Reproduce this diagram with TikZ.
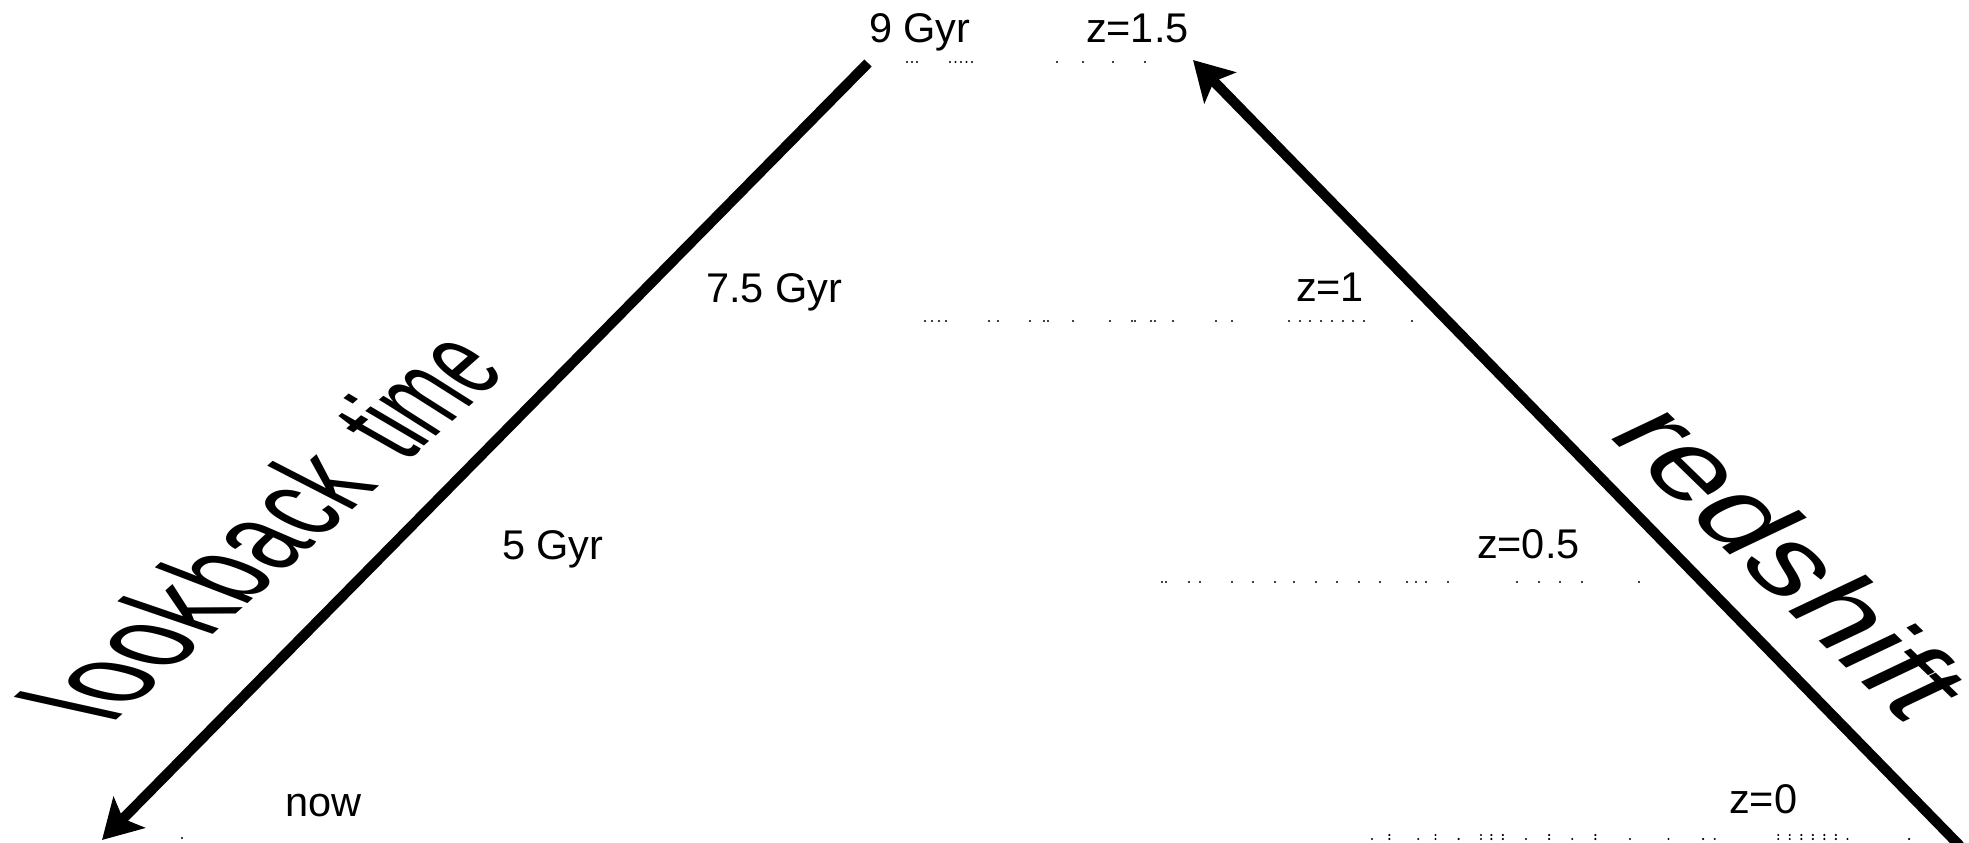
\documentclass[tikz,border=0pt]{standalone}
\usepackage{fontspec}
\setmainfont{Liberation Sans}
\usetikzlibrary{arrows.meta}
\begin{document}
\begin{tikzpicture}[x=0.01cm,y=-0.01cm,
  lbl/.style={anchor=base west, inner sep=0pt, outer sep=0pt, font=\fontsize{11.8}{14}\selectfont},
  axislabel/.style={transform shape, anchor=base west, inner sep=0pt, outer sep=0pt, font=\fontsize{20}{24}\selectfont},
  axisarrow/.style={line width=2.9pt, -{Stealth[length=11pt,width=12.5pt,inset=2.5pt]}}]
\useasboundingbox (0,0) rectangle (1969,842);
% arrows
\coordinate (ltop) at (868,63);
\coordinate (lend) at (102,840);
\coordinate (rbot) at (1960,846);
\coordinate (rtip) at (1193,60);
\draw[axisarrow] (ltop) -- (lend);
\draw[axisarrow] (rbot) -- (rtip);
% labels
\node[lbl] (g9) at (869,42) {9 Gyr};
\node[lbl] (z15) at (1086,42) {z=1.5};
\node[lbl] (g75) at (706,302) {7.5 Gyr};
\node[lbl] (z1) at (1296,301) {z=1};
\node[lbl] (g5) at (502,559) {5 Gyr};
\node[lbl] (z05) at (1477,558) {z=0.5};
\node[lbl] (now) at (285,816) {now};
\node[lbl] (z0) at (1729,813) {z=0};
% "lookback time" in perspective, letter by letter
\foreach \ua/\ub/\va/\vb/\px/\py/\ch/\nm in {
  1.0584/0.9397/-2.0082/0.4451/111.8/724.3/l/lb1,
  1.0393/0.9227/-1.9733/0.4993/128.3/709.6/o/lb2,
  1.0127/0.8991/-1.9221/0.5730/168.9/673.6/o/lb3,
  0.9861/0.8754/-1.8706/0.6404/208.4/638.4/k/lb4,
  0.9606/0.8528/-1.8207/0.6990/243.0/607.6/b/lb5,
  0.9339/0.8291/-1.7663/0.7606/280.5/574.3/a/lb6,
  0.9074/0.8056/-1.7156/0.8110/317.0/541.9/c/lb7,
  0.8829/0.7839/-1.6674/0.8570/348.8/513.6/k/lb8,
  0.8510/0.7555/-1.6042/0.9112/405.8/463.0/t/lb9,
  0.8382/0.7442/-1.5798/0.9305/420.9/449.6/i/lb10,
  0.7721/0.6854/-1.5289/0.9702/432.4/439.3/m/lb11,
  0.7786/0.6913/-1.4653/1.0147/477.6/399.1/e/lb12}{
  \begin{scope}[cm={\ua,\ub,\va,\vb,(\px,\py)}]
    \node[axislabel] (\nm) at (0,0) {\ch};
  \end{scope}
}
% "redshift"
\begin{scope}[cm={1.295,-1.259,1.516,0.720,(1605,433)}]
  \node[axislabel] (rs) at (0,0) {redshift};
\end{scope}
% galaxies (dots)
\foreach \x in {907,912,917,950,955.5,961,966.5,972,1057,1083,1113,1145}
  \fill (\x,62) circle (1.2);
\foreach \x in {925,932,939,946,989,998,1030,1044,1048,1073,1110,1132,1135,1151,1155,1173,1216,1232,1289,1300,1310,1321,1332,1343,1353,1364,1412}
  \fill (\x,321) circle (1.2);
\foreach \x in {1162,1166,1189,1200,1232,1253,1275,1294,1316,1337,1359,1380,1407,1416,1426,1448,1517,1539,1560,1582,1639}
  \fill (\x,582) circle (1.2);
\foreach \x in {1372,1389.3,1418.2,1435.5,1458.6,1481,1491.4,1502.9,1526,1549.1,1572.2,1595.3,1630,1668.5,1703.1,1714.7,1778.2,1789.7,1801.3,1812.8,1824.4,1835.9,1847.5,1909.1}
  \fill (\x,839) circle (1.2);
\foreach \x in {1389.3,1435.5,1481,1491.4,1502.9,1549.1,1595.3,1778.2,1789.7,1801.3,1812.8,1824.4,1835.9}
  \fill (\x,835) circle (1.2);
\fill (182,838) circle (1.2);
\end{tikzpicture}
\end{document}
